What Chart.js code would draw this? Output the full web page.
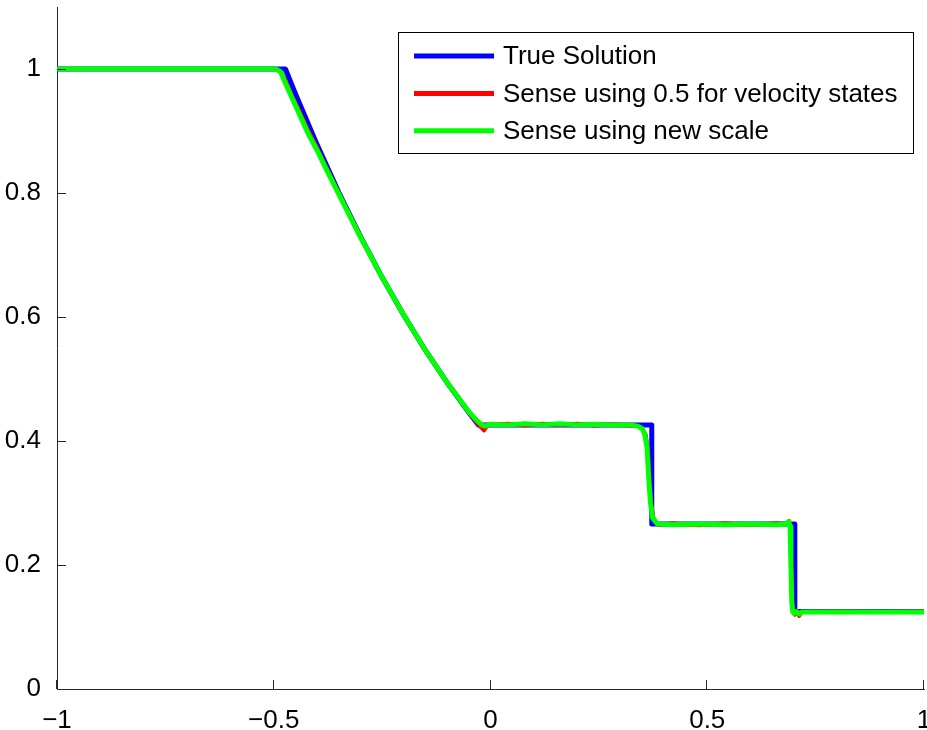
<!DOCTYPE html>
<html>
<head>
<meta charset="utf-8">
<script src="https://cdn.jsdelivr.net/npm/chart.js@4/dist/chart.umd.min.js"></script>
<style>
    html, body { margin: 0; padding: 0; background: #fff; }
    canvas { display: block; }
</style>
</head>
<body>
<canvas id="densityPlot" width="927" height="730"></canvas>
<script>
// Density profile at t = 0.4: exact solution vs. two sensor scalings
var seriesLabels = ['True Solution', 'Sense using 0.5 for velocity states', 'Sense using new scale'];
var seriesColors = ['#0000ff', '#ff0000', '#00ff00'];

var xTicks = [-1, -0.5, 0, 0.5, 1];
var yTicks = [0, 0.2, 0.4, 0.6, 0.8, 1];

// exact solution
var trueX = [-1, -0.473, -0.45, -0.4, -0.35, -0.3, -0.25, -0.2, -0.15, -0.1, -0.05, -0.028,
    0.372, 0.372, 0.702, 0.702, 1];
var trueY = [1, 1, 0.960, 0.878, 0.801, 0.730, 0.664, 0.603, 0.546, 0.494, 0.446, 0.426,
    0.426, 0.266, 0.266, 0.125, 0.125];

// 0.5 for velocity states
var halfX = [-1, -0.6, -0.5, -0.49, -0.482, -0.474, -0.46, -0.44, -0.42, -0.4, -0.38, -0.35, -0.3,
    -0.25, -0.2, -0.15, -0.1, -0.05, -0.03, -0.015, -0.008, 0, 0.04, 0.08, 0.12, 0.16, 0.2,
    0.24, 0.28, 0.32, 0.34, 0.35, 0.358, 0.363, 0.367, 0.371, 0.376, 0.386, 0.42, 0.48,
    0.54, 0.6, 0.66, 0.683, 0.689, 0.692, 0.694, 0.696, 0.698, 0.702, 0.707, 0.712, 0.718,
    0.73, 0.8, 0.9, 1];
var halfY = [1, 1, 1, 0.999, 0.994, 0.983, 0.960, 0.931, 0.900, 0.873, 0.843, 0.800, 0.730,
    0.664, 0.603, 0.546, 0.494, 0.446, 0.428, 0.417, 0.424, 0.426, 0.428, 0.425, 0.428, 0.426, 0.428,
    0.425, 0.427, 0.425, 0.424, 0.420, 0.410, 0.385, 0.335, 0.298, 0.275, 0.265, 0.267, 0.264,
    0.267, 0.265, 0.267, 0.266, 0.271, 0.262, 0.2, 0.14, 0.126, 0.120, 0.126, 0.118, 0.124,
    0.124, 0.125, 0.124, 0.125];

// new scale
var newX = [-1, -0.6, -0.5, -0.492, -0.484, -0.476, -0.46, -0.44, -0.42, -0.4, -0.38, -0.35, -0.3,
    -0.25, -0.2, -0.15, -0.1, -0.05, -0.03, -0.02, -0.012, 0, 0.04, 0.08, 0.12, 0.16, 0.2,
    0.24, 0.28, 0.32, 0.34, 0.35, 0.356, 0.361, 0.365, 0.369, 0.374, 0.385, 0.42, 0.48,
    0.54, 0.6, 0.66, 0.682, 0.688, 0.691, 0.693, 0.695, 0.697, 0.7, 0.706, 0.712, 0.718,
    0.73, 0.8, 0.9, 1];
var newY = [1, 1, 1, 0.999, 0.995, 0.982, 0.957, 0.926, 0.895, 0.869, 0.840, 0.798, 0.729,
    0.664, 0.603, 0.546, 0.494, 0.447, 0.432, 0.426, 0.424, 0.427, 0.426, 0.428, 0.426, 0.428, 0.426,
    0.427, 0.426, 0.426, 0.424, 0.420, 0.410, 0.390, 0.340, 0.300, 0.276, 0.266, 0.265, 0.266,
    0.265, 0.266, 0.265, 0.266, 0.270, 0.262, 0.2, 0.14, 0.125, 0.122, 0.125, 0.121, 0.124,
    0.124, 0.124, 0.124, 0.124];

function toPoints(xs, ys) {
    return xs.map(function (x, i) { return { x: x, y: ys[i] }; });
}

var FONT = "'Liberation Sans', Arial, sans-serif";
var AXIS_COLOR = '#262626';

// inward tick marks plus the boxed legend in the upper right
var axesAndLegend = {
    id: 'axesAndLegend',
    afterDraw: function (chart) {
        var ctx = chart.ctx;
        var area = chart.chartArea;
        var xs = chart.scales.x, ys = chart.scales.y;
        ctx.save();
        ctx.strokeStyle = AXIS_COLOR;
        ctx.lineWidth = 1;
        ctx.beginPath();
        xTicks.forEach(function (v) {
            var px = Math.round(xs.getPixelForValue(v)) - 0.5;
            ctx.moveTo(px, area.bottom);
            ctx.lineTo(px, area.bottom - 9);
        });
        yTicks.forEach(function (v) {
            var py = Math.round(ys.getPixelForValue(v)) + 0.5;
            ctx.moveTo(area.left, py);
            ctx.lineTo(area.left + 9, py);
        });
        ctx.stroke();

        // legend
        var bx = 398.5, by = 32.5, bw = 515, bh = 121;
        ctx.fillStyle = '#fff';
        ctx.fillRect(bx, by, bw, bh);
        ctx.strokeStyle = '#000';
        ctx.strokeRect(bx, by, bw, bh);
        ctx.font = '26px ' + FONT;
        ctx.textBaseline = 'middle';
        ctx.textAlign = 'left';
        seriesLabels.forEach(function (label, i) {
            var ly = 56 + i * 37.4;
            ctx.strokeStyle = seriesColors[i];
            ctx.lineWidth = 5;
            ctx.beginPath();
            ctx.moveTo(414, ly);
            ctx.lineTo(494, ly);
            ctx.stroke();
            ctx.fillStyle = '#000';
            ctx.fillText(label, 503, ly + 1);
        });
        ctx.restore();
    }
};

function minusSign(v) {
    return String(v).replace('-', '\u2212');
}

new Chart(document.getElementById('densityPlot'), {
    type: 'line',
    data: {
        datasets: [
            {
                label: seriesLabels[0],
                data: toPoints(trueX, trueY),
                borderColor: seriesColors[0],
                borderWidth: 5,
                order: 3
            },
            {
                label: seriesLabels[1],
                data: toPoints(halfX, halfY),
                borderColor: seriesColors[1],
                borderWidth: 4,
                order: 2
            },
            {
                label: seriesLabels[2],
                data: toPoints(newX, newY),
                borderColor: seriesColors[2],
                borderWidth: 5,
                order: 1
            }
        ]
    },
    options: {
        responsive: false,
        animation: false,
        devicePixelRatio: 1,
        parsing: false,
        elements: {
            point: { radius: 0, hoverRadius: 0 },
            line: { tension: 0, borderJoinStyle: 'round', borderCapStyle: 'round', fill: false }
        },
        layout: { padding: { top: 7, right: 3, left: 0, bottom: 0 } },
        plugins: {
            legend: { display: false },
            tooltip: { enabled: false }
        },
        scales: {
            x: {
                type: 'linear',
                position: 'bottom',
                min: -1,
                max: 1,
                afterBuildTicks: function (scale) {
                    scale.ticks = xTicks.map(function (v) { return { value: v }; });
                },
                afterFit: function (scale) {
                    scale.height = 41;
                    scale.paddingLeft = 0;
                    scale.paddingRight = 0;
                },
                grid: { display: false },
                border: { display: true, color: AXIS_COLOR, width: 1 },
                ticks: {
                    color: '#000',
                    padding: 8,
                    maxRotation: 0,
                    font: { size: 26, family: FONT },
                    callback: function (v) { return minusSign(v); }
                }
            },
            y: {
                type: 'linear',
                min: 0,
                max: 1.1,
                afterBuildTicks: function (scale) {
                    scale.ticks = yTicks.map(function (v) { return { value: v }; });
                },
                afterFit: function (scale) {
                    scale.width = 57;
                    scale.paddingTop = 0;
                    scale.paddingBottom = 0;
                },
                grid: { display: false },
                border: { display: true, color: AXIS_COLOR, width: 1 },
                ticks: {
                    color: '#000',
                    padding: 8,
                    font: { size: 26, family: FONT },
                    callback: function (v) { return String(v); }
                }
            }
        }
    },
    plugins: [axesAndLegend]
});
</script>
</body>
</html>
